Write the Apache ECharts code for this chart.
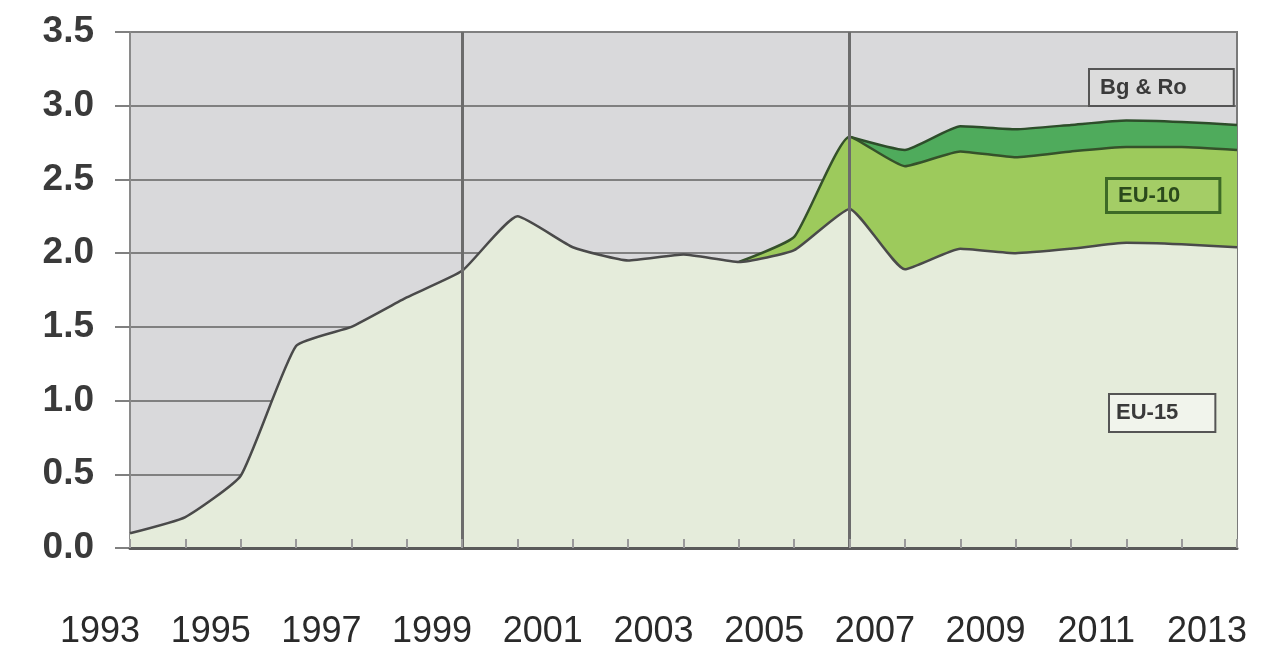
<!DOCTYPE html>
<html>

<head>
    <meta charset="utf-8">
    <title>EU chart</title>
    <script src="https://cdn.jsdelivr.net/npm/echarts@6/dist/echarts.min.js"></script>
</head>

<body style="margin:0;background:#fff;">
    <div id="main" style="width: 1270px;height:653px;"></div>
    <script type="text/javascript">
        // years on the x axis
        var years = ['1993', '1994', '1995', '1996', '1997', '1998', '1999', '2000', '2001', '2002',
            '2003', '2004', '2005', '2006', '2007', '2008', '2009', '2010', '2011', '2012', '2013'];
        // stacked layers
        var eu15 = [0.10, 0.21, 0.49, 1.37, 1.50, 1.70, 1.88, 2.25, 2.04, 1.95,
            1.99, 1.94, 2.02, 2.30, 1.89, 2.03, 2.00, 2.03, 2.07, 2.06, 2.04];
        var eu10 = [null, null, null, null, null, null, null, null, null, null,
            null, 0, 0.09, 0.49, 0.70, 0.66, 0.65, 0.66, 0.65, 0.66, 0.66];
        var bgRo = [null, null, null, null, null, null, null, null, null, null,
            null, null, null, 0, 0.11, 0.17, 0.19, 0.18, 0.18, 0.17, 0.17];
        var yTicks = [0, 0.5, 1.0, 1.5, 2.0, 2.5, 3.0, 3.5];
        var markYears = ['1999', '2006'];

        var myChart = echarts.init(document.getElementById('main'));

        var option = {
            animation: false,
            textStyle: { fontFamily: 'Liberation Sans, Arial, sans-serif' },
            grid: {
                left: 130, right: 33, top: 32, bottom: 105,
                show: true,
                backgroundColor: '#d9d9db',
                borderColor: '#7a7a7a',
                borderWidth: 2
            },
            xAxis: {
                type: 'category',
                boundaryGap: false,
                data: years,
                z: 10,
                axisLine: { lineStyle: { color: '#5a5a5a', width: 3 } },
                axisTick: {
                    show: true, inside: true, length: 9, interval: 0,
                    lineStyle: { color: '#9a9a9a', width: 2 }
                },
                axisLabel: {
                    interval: 1,
                    margin: 66,
                    fontSize: 36,
                    color: '#2a2a2a',
                    padding: [0, 60, 0, 0]
                },
                splitLine: { show: false }
            },
            yAxis: {
                type: 'value',
                min: yTicks[0],
                max: yTicks[yTicks.length - 1],
                interval: 0.5,
                axisLine: { show: true, lineStyle: { color: '#8a8a8a', width: 2 } },
                axisTick: { show: true, length: 15, lineStyle: { color: '#808080', width: 2 } },
                axisLabel: {
                    margin: 36,
                    fontSize: 37,
                    fontWeight: 'bold',
                    color: '#3a3a3a',
                    formatter: function (v) { return v.toFixed(1); }
                },
                splitLine: { lineStyle: { color: '#808080', width: 2 } }
            },
            series: [{
                name: 'EU-15',
                type: 'line',
                stack: 'total',
                data: eu15,
                symbol: 'none',
                smooth: 0.15,
                lineStyle: { color: '#4a4a4a', width: 2.5 },
                areaStyle: { color: '#e5ecdb', opacity: 1 },
                z: 5
            }, {
                name: 'EU-10',
                type: 'line',
                stack: 'total',
                data: eu10,
                symbol: 'none',
                smooth: 0.15,
                lineStyle: { color: '#35512a', width: 2.5 },
                areaStyle: { color: '#9dca5c', opacity: 1 },
                z: 4
            }, {
                name: 'Bg & Ro',
                type: 'line',
                stack: 'total',
                data: bgRo,
                symbol: 'none',
                smooth: 0.15,
                lineStyle: { color: '#2d4d2a', width: 2.5 },
                areaStyle: { color: '#4fab5c', opacity: 1 },
                z: 3
            }, {
                // vertical separators drawn above the areas
                name: 'markers',
                type: 'line',
                data: [],
                z: 8,
                markLine: {
                    z: 9,
                    silent: true,
                    symbol: 'none',
                    label: { show: false },
                    lineStyle: { color: '#6c6c6c', width: 3, type: 'solid' },
                    data: markYears.map(function (y) { return { xAxis: y }; })
                }
            }],
            graphic: [{
                type: 'text', left: 1088, top: 68, z: 10,
                style: {
                    text: 'Bg & Ro', fontSize: 22, fill: '#3a3a3a', fontWeight: 'bold',
                    fontFamily: 'Liberation Sans, Arial, sans-serif',
                    backgroundColor: '#dcdcdc', borderColor: '#555', borderWidth: 2,
                    padding: [7, 46, 6, 10]
                }
            }, {
                type: 'text', left: 1105, top: 177, z: 10,
                style: {
                    text: 'EU-10', fontSize: 22, fill: '#2b4a1c', fontWeight: 'bold',
                    fontFamily: 'Liberation Sans, Arial, sans-serif',
                    backgroundColor: '#a4cd66', borderColor: '#3d6a26', borderWidth: 3,
                    padding: [5, 38, 4, 10]
                }
            }, {
                type: 'text', left: 1108, top: 393, z: 10,
                style: {
                    text: 'EU-15', fontSize: 22, fill: '#3a3a3a', fontWeight: 'bold',
                    fontFamily: 'Liberation Sans, Arial, sans-serif',
                    backgroundColor: '#f1f4ec', borderColor: '#555', borderWidth: 2,
                    padding: [7, 36, 7, 6]
                }
            }]
        };

        myChart.setOption(option);
    </script>
</body>

</html>
